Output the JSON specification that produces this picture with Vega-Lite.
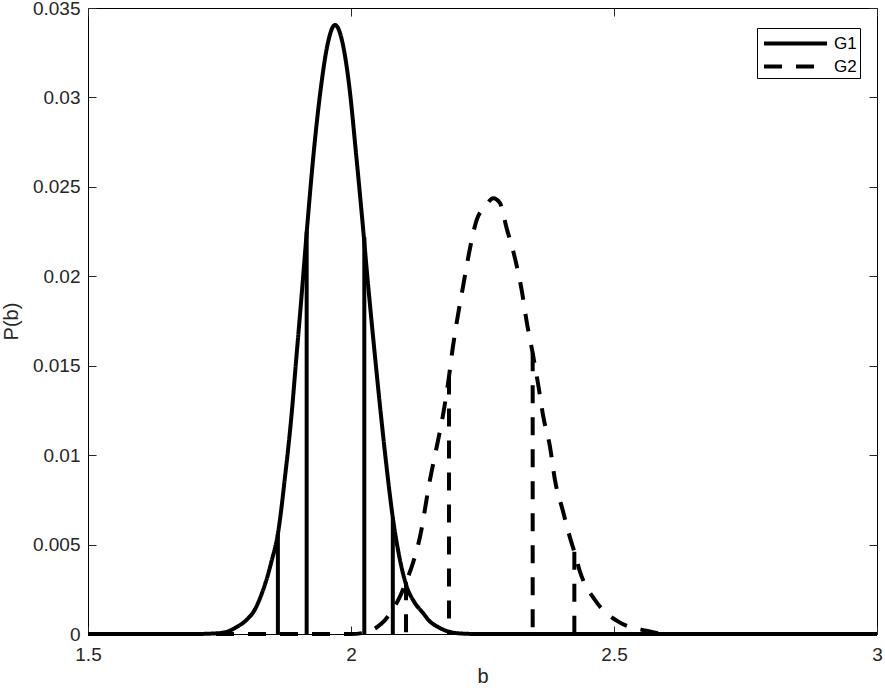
{
  "$schema": "https://vega.github.io/schema/vega-lite/v6.json",
  "autosize": {"type": "none"},
  "width": 789,
  "height": 626,
  "padding": {"left": 88, "top": 8, "right": 8, "bottom": 56},
  "background": "white",
  "config": {
    "view": {"stroke": "black", "strokeWidth": 1},
    "font": "Liberation Sans",
    "axis": {
      "labelFont": "Liberation Sans",
      "titleFont": "Liberation Sans",
      "labelFontSize": 19,
      "titleFontSize": 20,
      "labelColor": "#262626",
      "titleColor": "#262626",
      "titleFontWeight": "normal",
      "labelFlush": false,
      "labelOverlap": false,
      "grid": false,
      "domain": false,
      "tickColor": "#262626",
      "tickSize": -8,
      "tickWidth": 1
    }
  },
  "datasets": {
    "curves": [
      {"series": "G1", "b": 1.5, "p": 0},
      {"series": "G1", "b": 1.7, "p": 0},
      {"series": "G1", "b": 1.74, "p": 0.00003},
      {"series": "G1", "b": 1.7614, "p": 0.0001},
      {"series": "G1", "b": 1.783, "p": 0.0004},
      {"series": "G1", "b": 1.8, "p": 0.00075},
      {"series": "G1", "b": 1.8178, "p": 0.0014},
      {"series": "G1", "b": 1.8305, "p": 0.00227},
      {"series": "G1", "b": 1.84, "p": 0.0031},
      {"series": "G1", "b": 1.8483, "p": 0.004},
      {"series": "G1", "b": 1.861, "p": 0.0056},
      {"series": "G1", "b": 1.875, "p": 0.0089},
      {"series": "G1", "b": 1.8873, "p": 0.01236},
      {"series": "G1", "b": 1.8954, "p": 0.0152},
      {"series": "G1", "b": 1.9063, "p": 0.019},
      {"series": "G1", "b": 1.9169, "p": 0.02285},
      {"series": "G1", "b": 1.929, "p": 0.02689},
      {"series": "G1", "b": 1.943, "p": 0.0306},
      {"series": "G1", "b": 1.955, "p": 0.0329},
      {"series": "G1", "b": 1.9696, "p": 0.03405},
      {"series": "G1", "b": 1.985, "p": 0.0329},
      {"series": "G1", "b": 1.9968, "p": 0.0306},
      {"series": "G1", "b": 2.0095, "p": 0.02689},
      {"series": "G1", "b": 2.0215, "p": 0.02315},
      {"series": "G1", "b": 2.0329, "p": 0.0194},
      {"series": "G1", "b": 2.045, "p": 0.01571},
      {"series": "G1", "b": 2.0565, "p": 0.01236},
      {"series": "G1", "b": 2.068, "p": 0.00925},
      {"series": "G1", "b": 2.0795, "p": 0.0065},
      {"series": "G1", "b": 2.092, "p": 0.0043},
      {"series": "G1", "b": 2.106, "p": 0.00265},
      {"series": "G1", "b": 2.12, "p": 0.0018},
      {"series": "G1", "b": 2.137, "p": 0.00117},
      {"series": "G1", "b": 2.15, "p": 0.0007},
      {"series": "G1", "b": 2.165, "p": 0.0004},
      {"series": "G1", "b": 2.19, "p": 0.0001},
      {"series": "G1", "b": 2.215, "p": 0.00002},
      {"series": "G1", "b": 2.24, "p": 0},
      {"series": "G1", "b": 3.0, "p": 0},
      {"series": "G2", "b": 1.5, "p": 0},
      {"series": "G2", "b": 2.0, "p": 0},
      {"series": "G2", "b": 2.03, "p": 0.0001},
      {"series": "G2", "b": 2.05, "p": 0.0004},
      {"series": "G2", "b": 2.0646, "p": 0.00078},
      {"series": "G2", "b": 2.08, "p": 0.0014},
      {"series": "G2", "b": 2.093, "p": 0.00209},
      {"series": "G2", "b": 2.1046, "p": 0.0029},
      {"series": "G2", "b": 2.1185, "p": 0.00404},
      {"series": "G2", "b": 2.1312, "p": 0.00544},
      {"series": "G2", "b": 2.15, "p": 0.0086},
      {"series": "G2", "b": 2.163, "p": 0.01047},
      {"series": "G2", "b": 2.1755, "p": 0.01234},
      {"series": "G2", "b": 2.1863, "p": 0.0144},
      {"series": "G2", "b": 2.1933, "p": 0.01597},
      {"series": "G2", "b": 2.2028, "p": 0.01774},
      {"series": "G2", "b": 2.2135, "p": 0.01951},
      {"series": "G2", "b": 2.2243, "p": 0.02128},
      {"series": "G2", "b": 2.239, "p": 0.02315},
      {"series": "G2", "b": 2.255, "p": 0.0239},
      {"series": "G2", "b": 2.2706, "p": 0.02436},
      {"series": "G2", "b": 2.283, "p": 0.0241},
      {"series": "G2", "b": 2.296, "p": 0.02268},
      {"series": "G2", "b": 2.3118, "p": 0.021},
      {"series": "G2", "b": 2.3245, "p": 0.01923},
      {"series": "G2", "b": 2.334, "p": 0.01746},
      {"series": "G2", "b": 2.3454, "p": 0.0157},
      {"series": "G2", "b": 2.356, "p": 0.01392},
      {"series": "G2", "b": 2.3656, "p": 0.01215},
      {"series": "G2", "b": 2.3783, "p": 0.01047},
      {"series": "G2", "b": 2.3878, "p": 0.0086},
      {"series": "G2", "b": 2.4024, "p": 0.00693},
      {"series": "G2", "b": 2.4176, "p": 0.00526},
      {"series": "G2", "b": 2.4246, "p": 0.0046},
      {"series": "G2", "b": 2.4354, "p": 0.00348},
      {"series": "G2", "b": 2.4639, "p": 0.0019},
      {"series": "G2", "b": 2.5082, "p": 0.00069},
      {"series": "G2", "b": 2.562, "p": 0.00018},
      {"series": "G2", "b": 2.6, "p": 0},
      {"series": "G2", "b": 3.0, "p": 0}
    ],
    "bars": [
      {"series": "G1", "b": 1.861, "p": 0.0056},
      {"series": "G1", "b": 1.9157, "p": 0.0225},
      {"series": "G1", "b": 2.0253, "p": 0.0222},
      {"series": "G1", "b": 2.0795, "p": 0.0065},
      {"series": "G2", "b": 2.1046, "p": 0.0029},
      {"series": "G2", "b": 2.1863, "p": 0.0144},
      {"series": "G2", "b": 2.3454, "p": 0.0157},
      {"series": "G2", "b": 2.4246, "p": 0.0046}
    ]
  },
  "layer": [
    {
      "data": {"name": "curves"},
      "mark": {"type": "line", "strokeWidth": 4, "color": "black", "interpolate": "monotone"},
      "encoding": {
        "x": {"field": "b", "type": "quantitative", "scale": {"domain": [1.5, 3], "nice": false, "zero": false}, "axis": {"values": [1.5, 2, 2.5, 3], "format": "~g", "title": "b", "labelPadding": 19, "titlePadding": 2}},
        "y": {"field": "p", "type": "quantitative", "scale": {"domain": [0, 0.035], "nice": false}, "axis": {"values": [0, 0.005, 0.01, 0.015, 0.02, 0.025, 0.03, 0.035], "format": "~g", "title": "P(b)", "labelPadding": 16, "titlePadding": 11}},
        "detail": {"field": "series", "type": "nominal"},
        "strokeDash": {
          "field": "series", "type": "nominal",
          "scale": {"domain": ["G1", "G2"], "range": [[1, 0], [18, 14]]},
          "legend": {
            "title": null, "orient": "none", "legendX": 669, "legendY": 20,
            "symbolType": "M-1,0H5", "symbolSize": 441, "symbolStrokeWidth": 4,
            "symbolStrokeColor": "black", "symbolOffset": 2,
            "labelFont": "Liberation Sans", "labelFontSize": 17, "labelColor": "black",
            "fillColor": "white", "strokeColor": "black", "padding": 3,
            "rowPadding": 2, "labelOffset": 47
          }
        }
      }
    },
    {
      "data": {"name": "bars"},
      "mark": {"type": "rule", "strokeWidth": 4, "color": "black"},
      "encoding": {
        "x": {"field": "b", "type": "quantitative", "axis": null},
        "y": {"field": "p", "type": "quantitative", "axis": null},
        "y2": {"datum": 0},
        "strokeDash": {"field": "series", "type": "nominal"}
      }
    },
    {
      "data": {"name": "bars"},
      "mark": {"type": "point", "opacity": 0},
      "encoding": {
        "x": {"field": "b", "type": "quantitative", "axis": {"orient": "top", "values": [1.5, 2, 2.5, 3], "labels": false, "title": null}},
        "y": {"field": "p", "type": "quantitative", "axis": {"orient": "right", "values": [0, 0.005, 0.01, 0.015, 0.02, 0.025, 0.03, 0.035], "labels": false, "title": null}}
      }
    }
  ],
  "resolve": {"axis": {"x": "independent", "y": "independent"}}
}
